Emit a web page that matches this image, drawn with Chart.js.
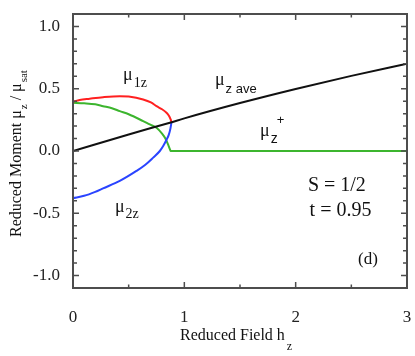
<!DOCTYPE html>
<html>
<head>
<meta charset="utf-8">
<script src="https://cdn.jsdelivr.net/npm/chart.js@4"></script>
<style>
  html, body { margin: 0; padding: 0; background: #fff; }
  #wrap { width: 415px; height: 356px; }
</style>
</head>
<body>
<div id="wrap"><canvas id="grafica"></canvas></div>
<script>
// valores
const xTicks = [0, 1, 2, 3];
const yTicks = [-1.0, -0.5, 0.0, 0.5, 1.0];

const hAve  = [0, 0.5, 0.87, 1, 1.5, 2, 2.5, 3];
const muAve = [0, 0.133, 0.227, 0.262, 0.385, 0.498, 0.603, 0.70];

const h1  = [0, 0.06, 0.15, 0.27, 0.42, 0.5, 0.63, 0.7, 0.75, 0.8, 0.84, 0.86, 0.875, 0.882, 0.884];
const mu1 = [0.395, 0.41, 0.42, 0.432, 0.44, 0.437, 0.414, 0.39, 0.36, 0.335, 0.307, 0.285, 0.258, 0.24, 0.228];

const h2  = [0, 0.1, 0.2, 0.27, 0.42, 0.57, 0.65, 0.72, 0.78, 0.81, 0.84, 0.86, 0.875, 0.884];
const mu2 = [-0.378, -0.36, -0.328, -0.30, -0.24, -0.16, -0.11, -0.053, 0.0, 0.04, 0.09, 0.13, 0.18, 0.228];

const hSt  = [0, 0.1, 0.2, 0.27, 0.35, 0.42, 0.5, 0.63, 0.69, 0.75, 0.8, 0.83, 0.857, 0.87, 0.878, 3];
const muSt = [0.387, 0.383, 0.375, 0.36, 0.343, 0.32, 0.295, 0.24, 0.213, 0.187, 0.14, 0.10, 0.045, 0.015, 0, 0];

function puntos(xs, ys) {
  return xs.map((x, i) => ({ x: x, y: ys[i] }));
}

const serif = "'Liberation Serif', 'Times New Roman', serif";
const sans = "'Liberation Sans', Arial, sans-serif";

// texto con subindices: [texto, fuente, desplazamiento, espacio extra]
function escribir(ctx, x, y, partes) {
  let cx = x;
  for (const p of partes) {
    ctx.font = p[1];
    ctx.fillText(p[0], cx, y + (p[2] || 0));
    cx += ctx.measureText(p[0]).width + (p[3] || 0);
  }
}

const marco = {
  id: "marco",
  afterDatasetsDraw(chart) {
    const { ctx, chartArea: a, scales } = chart;
    const sx = scales.x, sy = scales.y;
    ctx.save();
    ctx.strokeStyle = "#4d4d4d";
    ctx.lineWidth = 2;
    ctx.strokeRect(a.left, a.top, a.right - a.left, a.bottom - a.top);

    ctx.lineWidth = 1.5;
    ctx.beginPath();
    for (let v = 0; v <= 3.001; v += 0.5) {
      const px = sx.getPixelForValue(v);
      const len = Math.abs(v - Math.round(v)) < 0.01 ? 6 : 3.5;
      ctx.moveTo(px, a.bottom); ctx.lineTo(px, a.bottom - len);
      ctx.moveTo(px, a.top); ctx.lineTo(px, a.top + len);
    }
    for (let k = -10; k <= 10; k++) {
      const py = sy.getPixelForValue(k / 10);
      const len = k % 5 === 0 ? 6 : 4;
      ctx.moveTo(a.left, py); ctx.lineTo(a.left + len, py);
      ctx.moveTo(a.right, py); ctx.lineTo(a.right - len, py);
    }
    ctx.stroke();

    // etiquetas de las curvas
    ctx.fillStyle = "#111";
    ctx.textBaseline = "alphabetic";
    ctx.textAlign = "left";
    const P = (hx, my) => [sx.getPixelForValue(hx), sy.getPixelForValue(my)];
    let p;
    p = P(0.45, 0.574);
    escribir(ctx, p[0], p[1], [["\u03bc", "18px " + serif, 0, 1], ["1z", "14px " + serif, 7]]);
    p = P(1.275, 0.526);
    escribir(ctx, p[0], p[1], [["\u03bc", "18px " + serif, 0, 1], ["z ave", "13px " + sans, 8]]);
    p = P(1.68, 0.12);
    escribir(ctx, p[0], p[1], [["\u03bc", "18px " + serif, 0, 1], ["z", "14px " + sans, 7, -1], ["+", "13px " + sans, -12]]);
    p = P(0.377, -0.49);
    escribir(ctx, p[0], p[1], [["\u03bc", "18px " + serif, 0, 1], ["2z", "14px " + serif, 6]]);

    ctx.font = "20px " + serif;
    p = P(2.11, -0.32);
    ctx.fillText("S = 1/2", p[0], p[1]);
    p = P(2.125, -0.52);
    ctx.fillText("t = 0.95", p[0], p[1]);
    ctx.font = "17px " + serif;
    p = P(2.56, -0.906);
    ctx.fillText("(d)", p[0], p[1]);

    // titulos de los ejes
    escribir(ctx, a.left + 107, 340, [["Reduced Field h", "16px " + serif, 0, 2], ["z", "12px " + serif, 10]]);

    ctx.translate(21, 237);
    ctx.rotate(-Math.PI / 2);
    escribir(ctx, 0, 0, [
      ["Reduced Moment \u03bc", "16px " + serif, 0, 1],
      ["z", "11px " + serif, 6, 4],
      ["/ \u03bc", "16px " + serif, 0, 1],
      ["sat", "11px " + serif, 6]
    ]);
    ctx.restore();
  }
};

const ctx = document.getElementById("grafica").getContext("2d");

const chart = new Chart(ctx, {
  type: "line",
  data: {
    datasets: [
      { label: "mu z ave", data: puntos(hAve, muAve), borderColor: "#111111" },
      { label: "mu 1z", data: puntos(h1, mu1), borderColor: "#ff2020" },
      { label: "mu 2z", data: puntos(h2, mu2), borderColor: "#2a44ff" },
      { label: "mu z+", data: puntos(hSt, muSt), borderColor: "#3cb52e" }
    ]
  },
  options: {
    responsive: true,
    maintainAspectRatio: false,
    animation: false,
    parsing: false,
    layout: { padding: { top: 14, right: 8, left: 0, bottom: 0 } },
    elements: {
      point: { radius: 0 },
      line: { borderWidth: 2, cubicInterpolationMode: "monotone", fill: false }
    },
    plugins: { legend: { display: false }, tooltip: { enabled: false } },
    scales: {
      x: {
        type: "linear",
        min: 0,
        max: 3,
        grid: { display: false },
        border: { display: false },
        afterBuildTicks: s => { s.ticks = xTicks.map(v => ({ value: v })); },
        afterFit: s => { s.height = 68; s.paddingLeft = 0; s.paddingRight = 0; },
        ticks: {
          padding: 11,
          color: "#222",
          font: { family: serif, size: 17 },
          maxRotation: 0,
          callback: v => String(v)
        }
      },
      y: {
        type: "linear",
        min: -1.1,
        max: 1.1,
        grid: { display: false },
        border: { display: false },
        afterBuildTicks: s => { s.ticks = yTicks.map(v => ({ value: v })); },
        afterFit: s => { s.width = 73; s.paddingTop = 0; s.paddingBottom = 0; },
        ticks: {
          padding: 5,
          color: "#222",
          font: { family: serif, size: 17 },
          callback: v => v.toFixed(1)
        }
      }
    }
  },
  plugins: [marco]
});
</script>
</body>
</html>
